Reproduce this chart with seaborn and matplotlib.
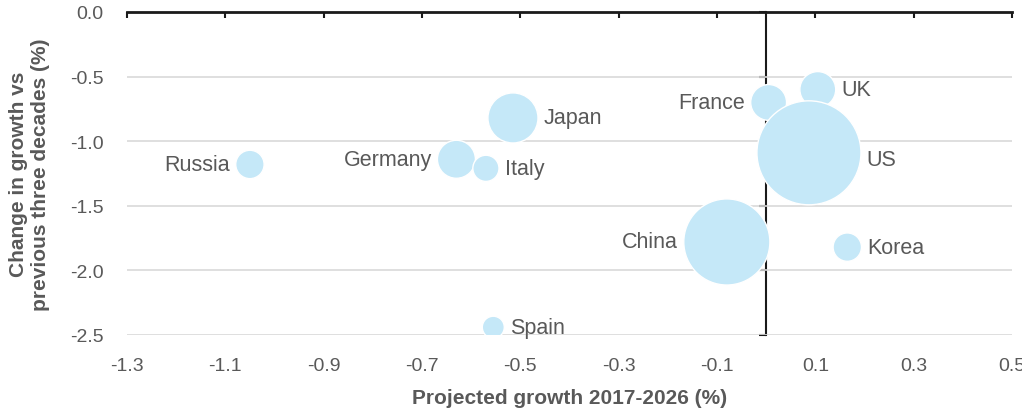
import numpy as np
import pandas as pd
import matplotlib
matplotlib.use("Agg")
import matplotlib.pyplot as plt
import seaborn as sns

countries = ["Russia", "Germany", "Italy", "Japan", "Spain", "France", "UK", "China", "Korea", "US"]
projected_growth = [-1.05, -0.63, -0.57, -0.515, -0.555, 0.005, 0.105, -0.08, 0.165, 0.087]
change_vs_past = [-1.18, -1.14, -1.21, -0.82, -2.44, -0.70, -0.60, -1.78, -1.82, -1.09]
weight = [2.0, 3.6, 1.7, 6.25, 1.2, 3.2, 3.2, 18.5, 2.0, 27.0]
label_side = ["left", "left", "right", "right", "right", "left", "right", "left", "right", "right"]

x_ticks = [-1.3, -1.1, -0.9, -0.7, -0.5, -0.3, -0.1, 0.1, 0.3, 0.5]
y_ticks = [0.0, -0.5, -1.0, -1.5, -2.0, -2.5]

df = pd.DataFrame({"country": countries, "x": projected_growth, "y": change_vs_past, "w": weight})

sns.set_style("white")
plt.rcParams["font.family"] = ["Liberation Sans", "DejaVu Sans"]

txt = "#595959"
fig = plt.figure(figsize=(10.22, 4.14), dpi=100)
ax = fig.add_axes([127/1022, 1-336/414, (1012-127)/1022, (336-13)/414])

smin, smax = 251, 5607
sns.scatterplot(data=df, x="x", y="y", size="w", sizes=(smin, smax), legend=False,
                color="#c5e8f8", edgecolor="white", linewidth=1.0, alpha=1, ax=ax, zorder=3)

ax.set_xlim(-1.3, 0.5)
ax.set_ylim(-2.5, 0.0)
ax.set_xticks(x_ticks)
ax.set_xticklabels([f"{v:.1f}" for v in x_ticks])
ax.set_yticks(y_ticks)
ax.set_yticklabels([f"{v:.1f}" for v in y_ticks])
ax.grid(axis="y", color="#d9d9d9", linewidth=1.2, zorder=0)
ax.grid(axis="x", visible=False)
for s in ["left", "right", "bottom"]:
    ax.spines[s].set_visible(False)
ax.spines["top"].set_visible(True)
ax.spines["top"].set_color("#1a1a1a")
ax.spines["top"].set_linewidth(2.0)
ax.spines["top"].set_zorder(5)

ax.tick_params(axis="x", bottom=False, top=True, labelbottom=True, labeltop=False,
               direction="in", length=4, width=1.5, color="#1a1a1a", pad=16,
               labelsize=14, labelcolor=txt)
ax.tick_params(axis="y", left=False, labelsize=14, labelcolor=txt, pad=13.5)

# vertical axis at x = 0
frac = (0 - (-1.3)) / (0.5 - (-1.3))
sec = ax.secondary_yaxis(frac)
sec.set_yticks(y_ticks)
sec.set_yticklabels([])
sec.tick_params(direction="in", length=5, width=1.5, color="#1a1a1a")
sec.spines["right"].set_color("#1a1a1a")
sec.spines["right"].set_linewidth(1.5)
sec.spines["left"].set_color("#1a1a1a")
sec.spines["left"].set_linewidth(1.5)

ax.set_xlabel("Projected growth 2017-2026 (%)", fontsize=15, fontweight="bold", color=txt, labelpad=10)
ax.set_ylabel("Change in growth vs\nprevious three decades (%)", fontsize=15, fontweight="bold",
              color=txt, labelpad=14, linespacing=1.2)

wmin, wmax = min(weight), max(weight)
for c, xv, yv, wv, side in zip(countries, projected_growth, change_vs_past, weight, label_side):
    s = smin + (wv - wmin) / (wmax - wmin) * (smax - smin)
    r = np.sqrt(s) / 2
    off = r + 4
    dy = -5 if c == "US" else 0
    if side == "left":
        ax.annotate(c, (xv, yv), xytext=(-off, dy), textcoords="offset points",
                    ha="right", va="center", fontsize=15.5, color=txt, zorder=6)
    else:
        ax.annotate(c, (xv, yv), xytext=(off, dy), textcoords="offset points",
                    ha="left", va="center", fontsize=15.5, color=txt, zorder=6)

fig.savefig("out.png", dpi=100)
